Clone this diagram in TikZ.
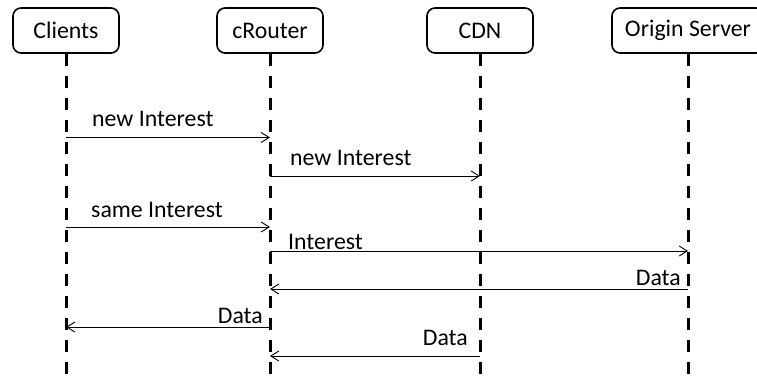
\documentclass[tikz,border=0pt]{standalone}
\usepackage{fontspec}
\setmainfont{Carlito}
\usetikzlibrary{arrows.meta}
\begin{document}
\begin{tikzpicture}[x=1pt,y=-1pt,
  actor/.style={draw,line width=1.6pt,rounded corners=8pt,minimum height=45pt,inner sep=0pt,font=\fontsize{23.8}{28}\selectfont},
  life/.style={line width=3pt,dash pattern=on 12pt off 10pt},
  msg/.style={line width=0.9pt,-{Straight Barb[length=8pt,width=10pt,line width=0.9pt]}},
  lbl/.style={font=\fontsize{23.8}{28}\selectfont,inner sep=0pt}]
\useasboundingbox (0,0) rectangle (757,381);
\clip (0,0) rectangle (757,381);
\node[actor,minimum width=106pt] (cl) at (66,30.5) {Clients};
\node[actor,minimum width=106pt] (cr) at (270,30.5) {cRouter};
\node[actor,minimum width=106pt] (cdn) at (480,30.5) {CDN};
\node[actor,minimum width=152pt] (os) at (688,30.5) {Origin Server};
\coordinate (bot) at (0,381);
\foreach \n in {cl,cr,cdn,os}{
  \draw[life] (\n.south) -- (\n.south |- bot);
}
\coordinate (r1) at (0,137.5);
\coordinate (r2) at (0,176);
\coordinate (r3) at (0,227);
\coordinate (r4) at (0,251);
\coordinate (r5) at (0,289);
\coordinate (r6) at (0,327);
\coordinate (r7) at (0,356);
\draw[msg] (cl.south |- r1) -- (cr.south |- r1);
\draw[msg] (cr.south |- r2) -- (cdn.south |- r2);
\draw[msg] (cl.south |- r3) -- (cr.south |- r3);
\draw[msg] (cr.south |- r4) -- (os.south |- r4);
\draw[msg] (os.south |- r5) -- (cr.south |- r5);
\draw[msg] (cr.south |- r6) -- (cl.south |- r6);
\draw[msg] (cdn.south |- r7) -- (cr.south |- r7);
\node[lbl,anchor=base west] (l1) at (92,126.7) {new Interest};
\node[lbl,anchor=base west] (l2) at (290,165.5) {new Interest};
\node[lbl,anchor=base west] (l3) at (91,217) {same Interest};
\node[lbl,anchor=base west] (l4) at (288,249) {Interest};
\node[lbl,anchor=base east] (l5) at (681,285.7) {Data};
\node[lbl,anchor=base east] (l6) at (263,323) {Data};
\node[lbl,anchor=base east] (l7) at (468,345.7) {Data};
\end{tikzpicture}
\end{document}
